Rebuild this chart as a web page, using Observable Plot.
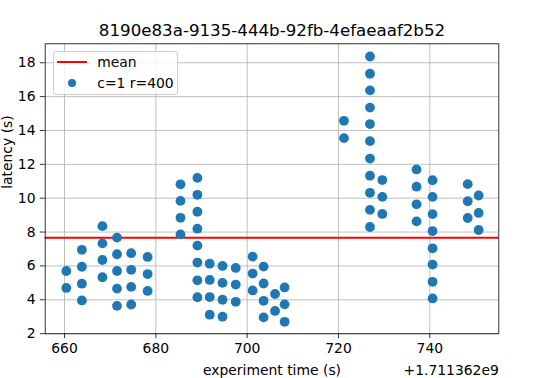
<!DOCTYPE html>
<html>
<head>
<meta charset="utf-8">
<script src="https://cdn.jsdelivr.net/npm/d3@7"></script>
<script src="https://cdn.jsdelivr.net/npm/@observablehq/plot@0.6"></script>
<style>
  html, body { margin: 0; padding: 0; background: white; }
  #wrap { position: relative; width: 543px; height: 378px; font-family: "DejaVu Sans", sans-serif; }
  #legend { position: absolute; left: 52.7px; top: 50.7px; width: 125px; height: 44.3px; box-sizing: border-box;
            border: 1px solid #cccccc; border-radius: 3px; background: rgba(255,255,255,0.8); }
  #legend .lbl { position: absolute; font-size: 13.9px; line-height: 16px; color: black; white-space: nowrap; }
</style>
</head>
<body>
<div id="wrap"></div>
<script>
// ---- data ----
const chartTitle = "8190e83a-9135-444b-92fb-4efaeaaf2b52";
const xLabel = "experiment time (s)";
const yLabel = "latency (s)";
const offsetLabel = "+1.711362e9";
const legendLabels = ["mean", "c=1 r=400"];

const xTicks = [660, 680, 700, 720, 740];
const yTicks = [2, 4, 6, 8, 10, 12, 14, 16, 18];

// sample time (s, relative to 1.711362e9) per group of requests
const groupTimes = [660.4, 663.8, 668.3, 671.5, 674.6, 678.2, 685.4, 689.1, 691.8, 694.6, 697.5,
                    701.2, 703.6, 706.1, 708.2, 721.2, 726.9, 729.6, 737.1, 740.6, 748.3, 750.7];
// latencies (s) observed in each group
const groupLatencies = [
  [5.7, 4.7],
  [6.95, 5.95, 4.95, 3.96],
  [8.35, 7.33, 6.35, 5.33],
  [7.67, 6.69, 5.7, 4.66, 3.64],
  [6.75, 5.77, 4.76, 3.72],
  [6.53, 5.52, 4.52],
  [10.82, 9.84, 8.84, 7.86],
  [11.2, 10.2, 9.2, 8.2, 7.2, 6.2, 5.15, 4.15],
  [6.13, 5.17, 4.16, 3.12],
  [6.0, 5.0, 4.0, 3.0],
  [5.88, 4.9, 3.88],
  [6.55, 5.55, 4.55],
  [5.96, 4.96, 3.94, 2.96],
  [4.34, 3.34],
  [4.73, 3.73, 2.7],
  [14.57, 13.55],
  [18.37, 17.35, 16.37, 15.35, 14.38, 13.37, 12.34, 11.33, 10.32, 9.31, 8.3],
  [11.07, 10.08, 9.07],
  [11.7, 10.68, 9.64, 8.63],
  [11.06, 10.08, 9.06, 8.06, 7.04, 6.08, 5.06, 4.08],
  [10.83, 9.82, 8.83],
  [10.16, 9.13, 8.12]
];
const meanLatency = 7.67;

// ---- build table ----
const points = [];
groupTimes.forEach((t, i) => groupLatencies[i].forEach(v => points.push({t, latency: v})));

const blue = "#1f77b4";
const gridStyle = {stroke: "#b0b0b0", strokeOpacity: 1, strokeWidth: 0.8};

const chart = Plot.plot({
  width: 543,
  height: 378,
  marginLeft: 44.7,
  marginRight: 44.7,
  marginTop: 43.3,
  marginBottom: 44.7,
  style: {fontFamily: "DejaVu Sans", fontSize: "13.9px", color: "black", background: "white", overflow: "visible"},
  x: {domain: [655.77, 755.11], ticks: xTicks},
  y: {domain: [1.99, 19.12], ticks: yTicks},
  marks: [
    Plot.gridX(xTicks, gridStyle),
    Plot.gridY(yTicks, gridStyle),
    Plot.ruleY([meanLatency], {stroke: "red", strokeWidth: 2}),
    Plot.dot(points, {x: "t", y: "latency", r: 4.9, fill: blue, stroke: null}),
    Plot.frame({stroke: "black", strokeWidth: 0.8}),
    Plot.axisX(xTicks, {tickSize: 4.86, tickPadding: 4.86, label: null, tickFormat: d => String(d), fontSize: 13.9, strokeWidth: 0.8}),
    Plot.axisY(yTicks, {tickSize: 4.86, tickPadding: 4.86, label: null, tickFormat: d => String(d), fontSize: 13.9, strokeWidth: 0.8}),
    Plot.text([chartTitle], {text: d => d, frameAnchor: "top", lineAnchor: "bottom", dy: -8.3, fontSize: 16.67, fill: "black"}),
    Plot.text([xLabel], {text: d => d, frameAnchor: "bottom", lineAnchor: "bottom", dy: 41, fontSize: 13.9, fill: "black"}),
    Plot.text([offsetLabel], {text: d => d, frameAnchor: "bottom-right", textAnchor: "end", lineAnchor: "bottom", dy: 41, fontSize: 13.9, fill: "black"}),
    Plot.text([yLabel], {text: d => d, frameAnchor: "left", rotate: -90, lineAnchor: "bottom", dx: -33.4, fontSize: 13.9, fill: "black"})
  ]
});

const wrap = document.getElementById("wrap");
wrap.appendChild(chart);

// ---- legend overlay ----
const legend = document.createElement("div");
legend.id = "legend";
const line = document.createElement("div");
Object.assign(line.style, {position: "absolute", left: "3.6px", top: "9.3px", width: "29.4px", height: "2px", background: "red"});
legend.appendChild(line);
const dot = document.createElement("div");
Object.assign(dot.style, {position: "absolute", left: "14.6px", top: "27.6px", width: "8px", height: "8px", borderRadius: "50%", background: blue});
legend.appendChild(dot);
[10.3, 31.6].forEach((cy, i) => {
  const s = document.createElement("div");
  s.className = "lbl";
  s.textContent = legendLabels[i];
  s.style.left = "43.6px";
  s.style.top = (cy - 8) + "px";
  legend.appendChild(s);
});
wrap.appendChild(legend);
</script>
</body>
</html>
